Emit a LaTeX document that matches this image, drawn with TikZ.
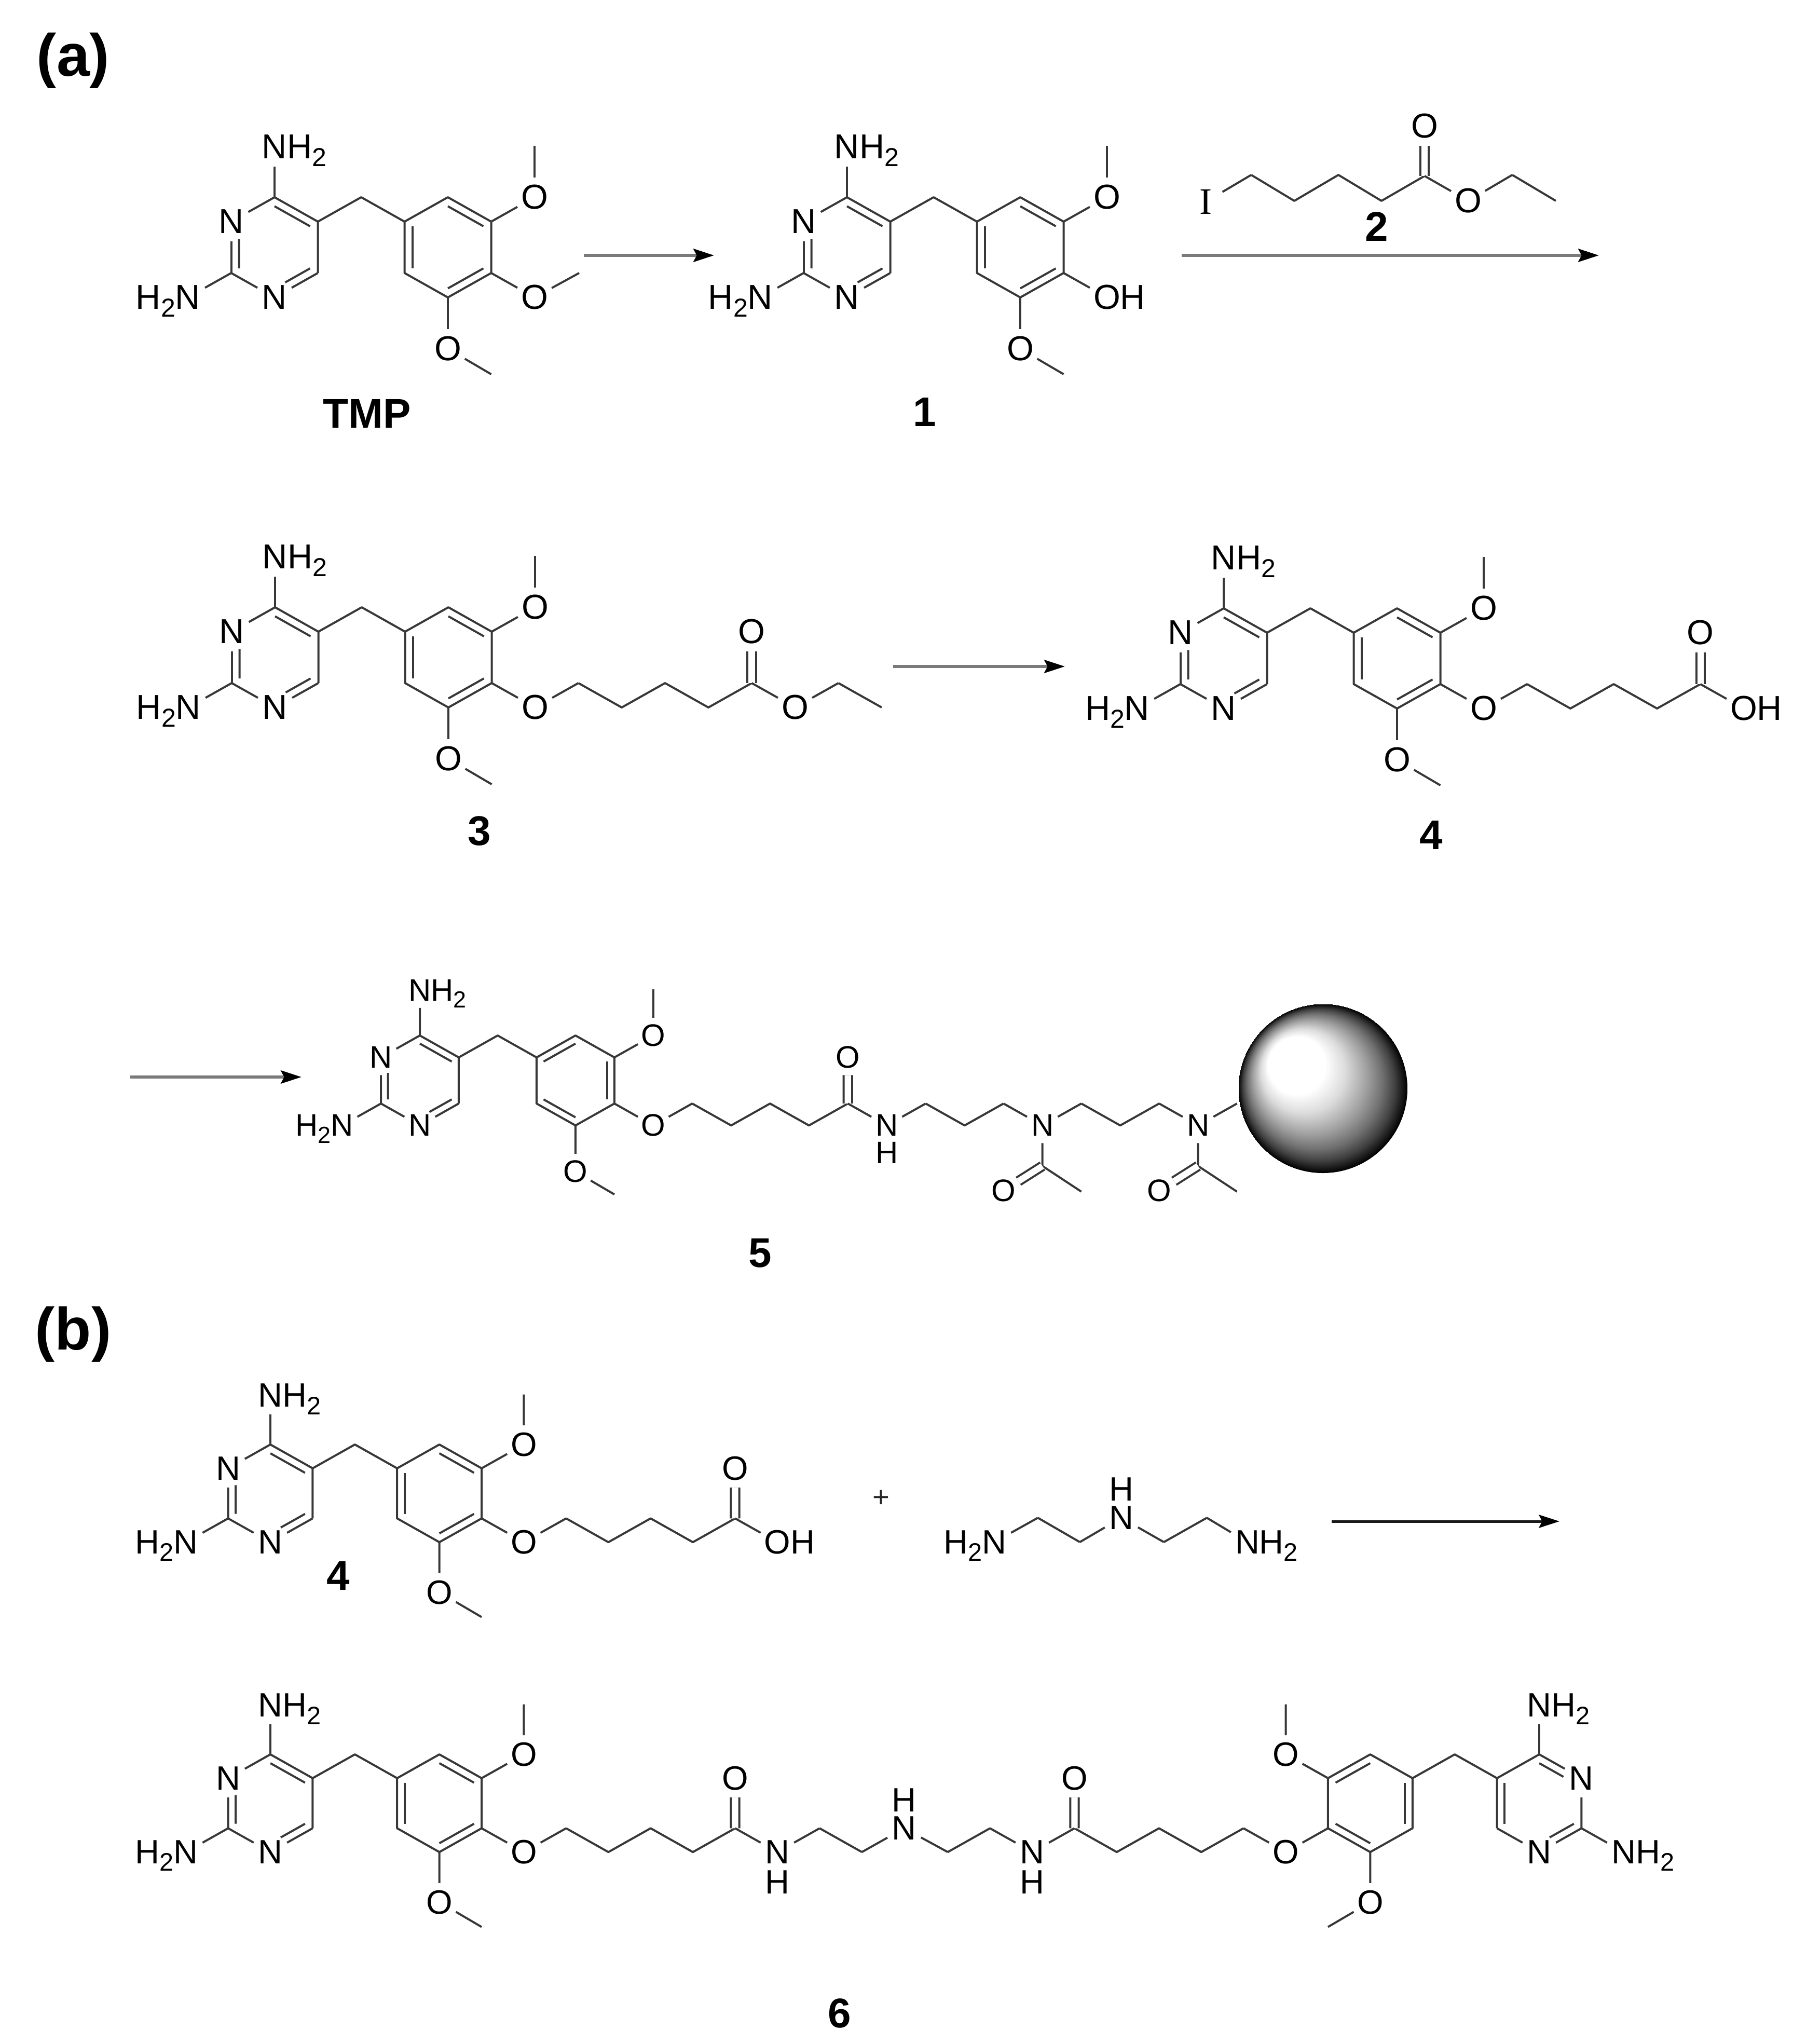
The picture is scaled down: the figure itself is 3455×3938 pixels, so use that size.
\documentclass[tikz,border=0pt]{standalone}
\usepackage{fontspec}
\setmainfont{Liberation Sans}
\newfontfamily\iodfont{Liberation Serif}
\usetikzlibrary{calc,arrows.meta}
\pgfdeclareradialshading{sphereb}{\pgfpoint{-11.7bp}{10.3bp}}{%
  color(0bp)=(white); color(8.5bp)=(white); color(12.5bp)=(black!14!white);
  color(17bp)=(black!38!white); color(20bp)=(black!56!white); color(22.5bp)=(black!75!white);
  color(24bp)=(black!90!white); color(25bp)=(black)}
\newcommand{\subtwo}{\raisebox{-.22em}{\fontsize{12}{12}\selectfont 2}}
\newcommand{\nhh}{N\rlap{\smash{H\subtwo}}}
\newcommand{\hhn}{\llap{\smash{H\subtwo}}N}
\newcommand{\oh}{O\rlap{H}}
\tikzset{
  bond/.style={draw=black!78,line width=0.96pt,line join=round},
  cdbl/.style={bond,double=white,double distance=2.9pt},
  atom/.style={circle,inner sep=0pt,minimum size=17.8pt,transform shape,text=black,font=\fontsize{16}{16}\selectfont},
  plainatom/.style={inner sep=0pt,transform shape,text=black,font=\fontsize{16}{16}\selectfont},
  cmpd/.style={inner sep=0pt,text=black,font=\fontsize{19.2}{19.2}\selectfont\bfseries},
  panel/.style={inner sep=0pt,anchor=base,text=black,font=\fontsize{27.6}{27.6}\selectfont\bfseries},
  rxn/.style={draw=black!52,line width=1.6pt,-{Stealth[length=9.5pt,width=6pt,inset=1.5pt,black]}},
  rxnb/.style={draw=black!90,line width=1.2pt,-{Stealth[length=9.5pt,width=6pt,inset=1.5pt,black]}}
}
\newcommand{\ca}[2]{\coordinate (#1) at ({#2*83.5},146);}
\newcommand{\cb}[2]{\coordinate (#1) at ({#2*83.5},193);}
\newcommand{\inn}[3]{\draw[bond] ($(#1.center)!.18!(#3)$) -- ($(#2.center)!.18!(#3)$);}
\newcommand{\innh}[3]{\draw[bond] ($($(#1.center)!.18!(#3)$)!.3!($(#2.center)!.18!(#3)$)$) -- ($(#2.center)!.18!(#3)$);}
% prefix, amino text, O4 text
\newcommand{\trimcore}[3]{%
  \coordinate (#1cp) at (0,96.5); \coordinate (#1ca) at (334,96.5);
  \coordinate (#1c4) at (0,0); \coordinate (#1c5) at (83.5,47); \coordinate (#1c6) at (83.5,146);
  \coordinate (#1c2) at (-83.5,146); \coordinate (#1ch) at (167,0);
  \coordinate (#1a1) at (250.5,47); \coordinate (#1a2) at (334,0); \coordinate (#1a3) at (417.5,47);
  \coordinate (#1a4) at (417.5,146); \coordinate (#1a5) at (334,193); \coordinate (#1a6) at (250.5,146);
  \coordinate (#1m3) at (501,-99); \coordinate (#1m5) at (417.5,341);
  \node[atom] (#1n3) at (-83.5,47) {N};
  \node[atom] (#1n1) at (0,193) {N};
  \node[atom] (#1n4) at (0,-97) {\nhh};
  \node[atom] (#1n2) at (-167,193) {#2};
  \node[atom] (#1o3) at (501,0) {O};
  \node[atom] (#1o4) at (501,193) {#3};
  \node[atom] (#1o5) at (334,292) {O};
  \draw[bond] (#1n4) -- (#1c4); \draw[bond] (#1n3) -- (#1c4); \draw[bond] (#1n3) -- (#1c2);
  \draw[bond] (#1n2) -- (#1c2); \draw[bond] (#1n1) -- (#1c2); \draw[bond] (#1n1) -- (#1c6);
  \draw[bond] (#1c4) -- (#1c5) -- (#1c6); \draw[bond] (#1c5) -- (#1ch) -- (#1a1);
  \draw[bond] (#1a1) -- (#1a2) -- (#1a3) -- (#1a4) -- (#1a5) -- (#1a6) -- cycle;
  \draw[bond] (#1a3) -- (#1o3); \draw[bond] (#1o3) -- (#1m3);
  \draw[bond] (#1a4) -- (#1o4); \draw[bond] (#1a5) -- (#1o5); \draw[bond] (#1o5) -- (#1m5);
}
\newcommand{\pyrA}[1]{\inn{#1c4}{#1c5}{#1cp}\innh{#1n3}{#1c2}{#1cp}\innh{#1n1}{#1c6}{#1cp}}
\newcommand{\pyrB}[1]{\inn{#1c5}{#1c6}{#1cp}\innh{#1n3}{#1c4}{#1cp}\innh{#1n1}{#1c2}{#1cp}}
\newcommand{\arA}[1]{\inn{#1a1}{#1a6}{#1ca}\inn{#1a2}{#1a3}{#1ca}\inn{#1a4}{#1a5}{#1ca}}
\newcommand{\arB}[1]{\inn{#1a1}{#1a2}{#1ca}\inn{#1a3}{#1a4}{#1ca}\inn{#1a5}{#1a6}{#1ca}}
% pentanoyl chain from O4, ends at the carbonyl carbon #1k11 with oxygen #1ox
\newcommand{\pentchain}[1]{%
  \ca{#1k7}{7}\cb{#1k8}{8}\ca{#1k9}{9}\cb{#1k10}{10}\ca{#1k11}{11}
  \node[atom] (#1ox) at ({11*83.5},47) {O};
  \draw[bond] (#1o4) -- (#1k7); \draw[bond] (#1k7) -- (#1k8) -- (#1k9) -- (#1k10) -- (#1k11);
  \draw[cdbl] (#1k11) -- (#1ox);
}
\begin{document}
\begin{tikzpicture}[x=0.24pt,y=-0.24pt]
\fill[white] (0,0) rectangle (3455,3938);
\path[use as bounding box] (0,0) rectangle (3455,3938);

\node[panel] (pa) at (141,147) {(a)};
\node[panel] (pb) at (141,2600) {(b)};

% TMP
\begin{scope}[shift={(529,380)}]
  \trimcore{t}{\hhn}{O}\pyrA{t}\arA{t}
  \coordinate (tm4) at (587,146);
  \draw[bond] (to4) -- (tm4);
\end{scope}
\node[cmpd] (ltmp) at (707,797) {TMP};

% arrow 1
\coordinate (a1s) at (1125,492); \coordinate (a1e) at (1376,492);
\draw[rxn] (a1s) -- (a1e);

% 1
\begin{scope}[shift={(1632,380)}]
  \trimcore{u}{\hhn}{\oh}\pyrA{u}\arA{u}
\end{scope}
\node[cmpd] (l1) at (1782,794) {1};

% 2
\begin{scope}[shift={(2323,389)}]
  \node[atom,font=\iodfont\fontsize{17.3}{17.3}\selectfont] (ii) at (0,0) {I};
  \coordinate (i1) at (88,-52); \coordinate (i2) at (171,-2); \coordinate (i3) at (256,-52);
  \coordinate (i4) at (339,-2); \coordinate (i5) at (422,-50);
  \coordinate (i6) at (591,-52); \coordinate (i7) at (675,-2);
  \node[atom] (ix) at (422,-146) {O};
  \node[atom] (ie) at (506,-2) {O};
  \draw[bond] (ii) -- (i1); \draw[bond] (i1) -- (i2) -- (i3) -- (i4) -- (i5);
  \draw[cdbl] (i5) -- (ix);
  \draw[bond] (i5) -- (ie); \draw[bond] (ie) -- (i6); \draw[bond] (i6) -- (i7);
\end{scope}
\node[cmpd] (l2) at (2653,437) {2};

% arrow 2
\coordinate (a2s) at (2277,492); \coordinate (a2e) at (3081,492);
\draw[rxn] (a2s) -- (a2e);

% 3
\begin{scope}[shift={(530,1170)}]
  \trimcore{v}{\hhn}{O}\pyrA{v}\arA{v}
  \pentchain{v}
  \node[atom] (ve) at ({12*83.5},193) {O};
  \ca{vk13}{13}\cb{vk14}{14}
  \draw[bond] (vk11) -- (ve); \draw[bond] (ve) -- (vk13); \draw[bond] (vk13) -- (vk14);
\end{scope}
\node[cmpd] (l3) at (924,1601) {3};

% arrow 3
\coordinate (a3s) at (1721,1284); \coordinate (a3e) at (2052,1284);
\draw[rxn] (a3s) -- (a3e);

% 4
\begin{scope}[shift={(2358,1172)}]
  \trimcore{w}{\hhn}{O}\pyrA{w}\arA{w}
  \pentchain{w}
  \node[atom] (we) at ({12*83.5},193) {\oh};
  \draw[bond] (wk11) -- (we);
\end{scope}
\node[cmpd] (l4) at (2758,1609) {4};

% arrow 4
\coordinate (a4s) at (251,2075); \coordinate (a4e) at (581,2075);
\draw[rxn] (a4s) -- (a4e);

% 5
\begin{scope}[shift={(809,1995)},scale=.898]
  \trimcore{f}{\hhn}{O}\pyrA{f}\arB{f}
  \pentchain{f}
  \node[atom] (fn12) at ({12*83.5},193) {N};
  \node[plainatom] (fh12) at ({12*83.5},252) {H};
  \ca{fk13}{13}\cb{fk14}{14}\ca{fk15}{15}\ca{fk17}{17}\cb{fk18}{18}\ca{fk19}{19}\ca{fk21}{21}
  \node[atom] (fn16) at ({16*83.5},193) {N};
  \node[atom] (fn20) at ({20*83.5},193) {N};
  \draw[bond] (fk11) -- (fn12); \draw[bond] (fn12) -- (fk13);
  \draw[bond] (fk13) -- (fk14) -- (fk15); \draw[bond] (fk15) -- (fn16);
  \draw[bond] (fn16) -- (fk17); \draw[bond] (fk17) -- (fk18) -- (fk19); \draw[bond] (fk19) -- (fn20);
  \draw[bond] (fn20) -- (fk21);
  \coordinate (fc1) at ({16*83.5},280); \coordinate (fc2) at ({20*83.5},280);
  \coordinate (fm1) at ({17*83.5},335); \coordinate (fm2) at ({21*83.5},335);
  \node[atom] (fo1) at ({15*83.5},333) {O};
  \node[atom] (fo2) at ({19*83.5},333) {O};
  \draw[bond] (fn16) -- (fc1); \draw[bond] (fc1) -- (fm1); \draw[cdbl] (fc1) -- (fo1);
  \draw[bond] (fn20) -- (fc2); \draw[bond] (fc2) -- (fm2); \draw[cdbl] (fc2) -- (fo2);
\end{scope}
\node[cmpd] (l5) at (1465,2414) {5};

% bead
\coordinate (beadc) at (2549,2097);
\shade[shading=sphereb] (beadc) circle (163);

% 4 (panel b)
\begin{scope}[shift={(521,2783)},scale=.975]
  \trimcore{b}{\hhn}{O}\pyrA{b}\arA{b}
  \pentchain{b}
  \node[atom] (be) at ({12*83.5},193) {\oh};
  \draw[bond] (bk11) -- (be);
\end{scope}
\node[cmpd] (l4b) at (652,3036) {4};
\node[plainatom,transform shape,text=black!85,font=\fontsize{13.5}{13.5}\selectfont] (plus) at (1698,2887) {+};

% triamine
\begin{scope}[shift={(1916,2971)},scale=.975]
  \node[atom] (dn1) at (0,0) {\hhn};
  \coordinate (d1) at (86,-48); \coordinate (d2) at (169,0); \coordinate (d3) at (335,0); \coordinate (d4) at (420,-48);
  \node[atom] (dn2) at (251,-48) {N};
  \node[plainatom] (dh) at (251,-104) {H};
  \node[atom] (dn3) at (500,0) {\nhh};
  \draw[bond] (dn1) -- (d1); \draw[bond] (d1) -- (d2); \draw[bond] (d2) -- (dn2);
  \draw[bond] (dn2) -- (d3); \draw[bond] (d3) -- (d4); \draw[bond] (d4) -- (dn3);
\end{scope}

% arrow 5
\coordinate (a5s) at (2566,2931); \coordinate (a5e) at (3005,2931);
\draw[rxnb] (a5s) -- (a5e);

% 6 left half
\begin{scope}[shift={(521,3380)},scale=.975]
  \trimcore{p}{\hhn}{O}\pyrA{p}\arA{p}
  \pentchain{p}
  \node[atom] (pn12) at ({12*83.5},193) {N};
  \node[plainatom] (ph12) at ({12*83.5},252) {H};
  \ca{pk13}{13}\cb{pk14}{14}
  \node[atom] (pn15) at ({15*83.5},146) {N};
  \node[plainatom] (ph15) at ({15*83.5},90) {H};
  \draw[bond] (pk11) -- (pn12); \draw[bond] (pn12) -- (pk13);
  \draw[bond] (pk13) -- (pk14); \draw[bond] (pk14) -- (pn15);
\end{scope}

% 6 right half (mirrored)
\begin{scope}[shift={(2966,3380)},xscale=-.975,yscale=.975,every node/.append style={xscale=-1}]
  \trimcore{q}{\nhh}{O}\pyrB{q}\arA{q}
  \pentchain{q}
  \node[atom] (qn12) at ({12*83.5},193) {N};
  \node[plainatom] (qh12) at ({12*83.5},252) {H};
  \ca{qk13}{13}\cb{qk14}{14}
  \draw[bond] (qk11) -- (qn12); \draw[bond] (qn12) -- (qk13);
  \draw[bond] (qk13) -- (qk14); \draw[bond] (qk14) -- (pn15);
\end{scope}
\node[cmpd] (l6) at (1618,3879) {6};
\end{tikzpicture}
\end{document}
